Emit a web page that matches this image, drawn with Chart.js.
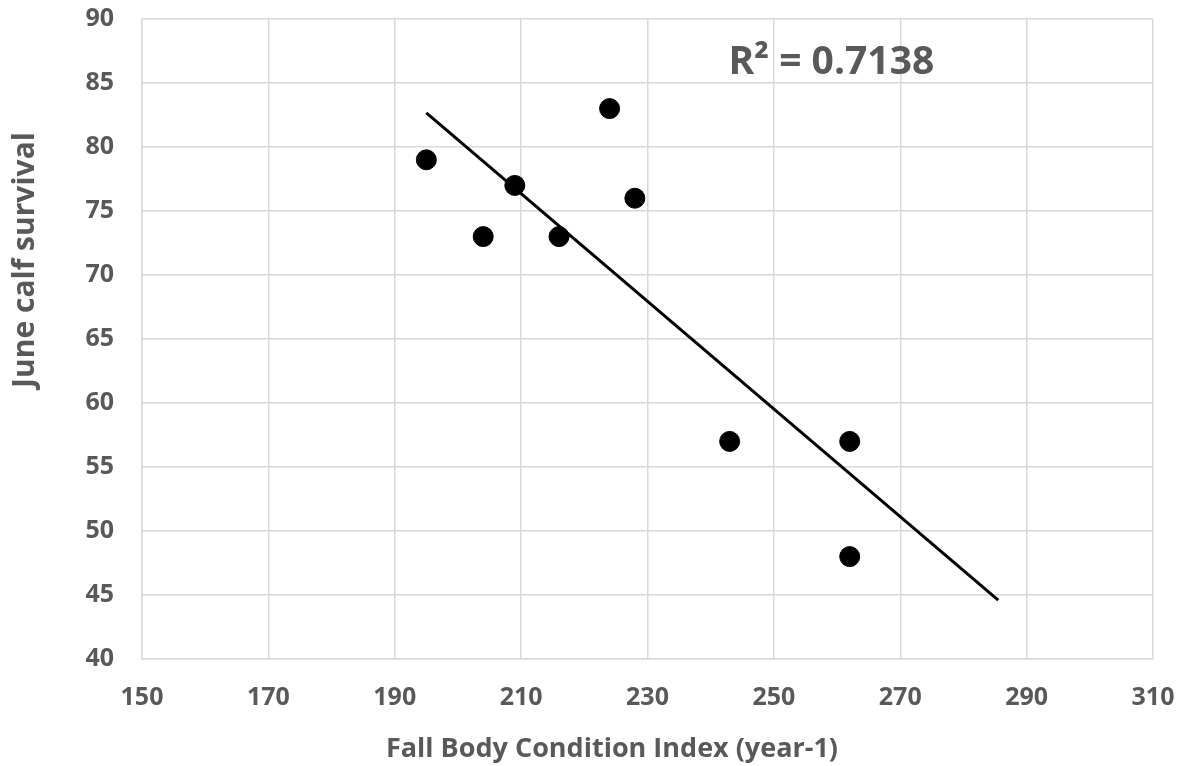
<!DOCTYPE html>
<html>
<head>
<meta charset="utf-8">
<style>
  html, body { margin: 0; padding: 0; background: #ffffff; }
  #wrap { width: 1192px; height: 766px; }
</style>
<script src="https://cdn.jsdelivr.net/npm/chart.js@4"></script>
</head>
<body>
<div id="wrap"><canvas id="c" width="1192" height="766"></canvas></div>
<script>
const conditionIndex = [195, 204, 209, 216, 224, 228, 243, 262, 262];
const calfSurvival   = [79, 73, 77, 73, 83, 76, 57, 57, 48];
const trendX = [195, 285.5];
const trendY = [82.67, 44.6];
const rSquaredLabel = 'R² = 0.7138';
const rLabelPos = [259.1, 86.6];
const xTicks = [150, 170, 190, 210, 230, 250, 270, 290, 310];
const yTicks = [40, 45, 50, 55, 60, 65, 70, 75, 80, 85, 90];
const xTitle = 'Fall Body Condition Index (year-1)';
const yTitle = 'June calf survival';

const FONT = "'Open Sans', 'DejaVu Sans', sans-serif";
const GRAY = '#595959';

const textPlugin = {
  id: 'texts',
  afterDatasetsDraw(chart) {
    const { ctx, scales } = chart;
    const px = scales.x.getPixelForValue(rLabelPos[0]);
    const py = scales.y.getPixelForValue(rLabelPos[1]);
    ctx.save();
    ctx.fillStyle = GRAY;
    ctx.textAlign = 'center';
    ctx.textBaseline = 'middle';
    ctx.font = "bold 39px " + FONT;
    ctx.fillText(rSquaredLabel, px, py);
    // axis titles
    ctx.font = "bold 27px " + FONT;
    ctx.textBaseline = 'alphabetic';
    ctx.fillText(xTitle, 612, 757);
    ctx.translate(34, 260);
    ctx.rotate(-Math.PI / 2);
    ctx.font = "bold 30px " + FONT;
    ctx.fillText(yTitle, 0, 0);
    ctx.restore();
  }
};

new Chart(document.getElementById('c'), {
  type: 'scatter',
  data: {
    datasets: [
      {
        label: 'Survival',
        data: conditionIndex.map((x, i) => ({ x: x, y: calfSurvival[i] })),
        backgroundColor: '#000000',
        borderColor: '#000000',
        pointRadius: 10,
        pointHoverRadius: 10,
        order: 1
      },
      {
        label: 'Trend',
        type: 'line',
        data: trendX.map((x, i) => ({ x: x, y: trendY[i] })),
        borderColor: '#000000',
        borderWidth: 3,
        pointRadius: 0,
        fill: false,
        order: 2
      }
    ]
  },
  options: {
    responsive: false,
    animation: false,
    layout: { padding: { left: 0, right: 39, top: 19, bottom: 0 } },
    plugins: {
      legend: { display: false },
      tooltip: { enabled: false }
    },
    scales: {
      x: {
        type: 'linear',
        min: 150, max: 310,
        afterBuildTicks: (s) => { s.ticks = xTicks.map(v => ({ value: v })); },
        grid: { color: '#d9d9d9', lineWidth: 1.5, drawTicks: false },
        border: { color: '#d9d9d9', width: 1.5 },
        ticks: { color: GRAY, font: { family: FONT, size: 25, weight: 'bold' }, padding: 24, maxRotation: 0 },
        afterFit: (s) => { s.height = 107; s.paddingLeft = 0; s.paddingRight = 0; }
      },
      y: {
        type: 'linear',
        min: 40, max: 90,
        afterBuildTicks: (s) => { s.ticks = yTicks.map(v => ({ value: v })); },
        grid: { color: '#d9d9d9', lineWidth: 1.5, drawTicks: false },
        border: { color: '#d9d9d9', width: 1.5 },
        ticks: { color: GRAY, font: { family: FONT, size: 25, weight: 'bold' }, padding: 28 },
        afterFit: (s) => { s.width = 142; s.paddingTop = 0; s.paddingBottom = 0; }
      }
    }
  },
  plugins: [textPlugin]
});
</script>
</body>
</html>
